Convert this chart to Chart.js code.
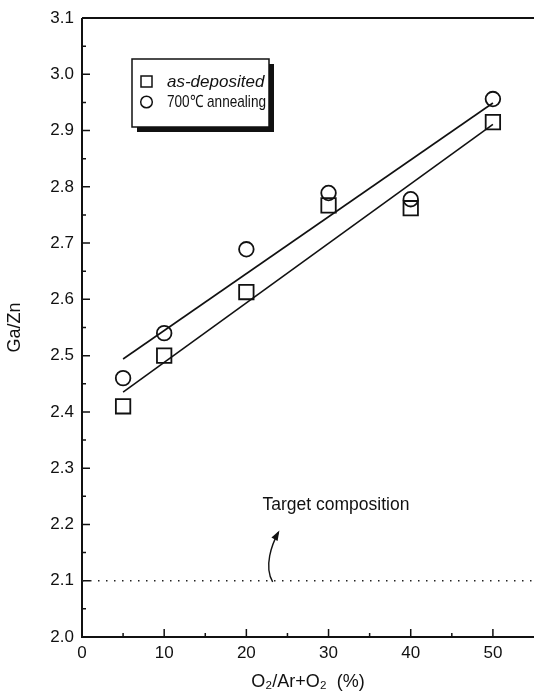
<!DOCTYPE html>
<html>
<head>
<meta charset="utf-8">
<script src="https://cdn.jsdelivr.net/npm/chart.js@4.4.0/dist/chart.umd.min.js"></script>
<style>
  html, body { margin: 0; padding: 0; background: #fff; overflow: hidden; }
  #wrap { width: 534px; height: 695px; }
</style>
</head>
<body>
<div id="wrap"><canvas id="chart"></canvas></div>
<script>
const FONT = '"Liberation Sans", Arial, Helvetica, sans-serif';

// datos
const X_VALORES = [5, 10, 20, 30, 40, 50];
const AS_DEPOSITED = [2.41, 2.50, 2.613, 2.767, 2.762, 2.915];
const ANNEALED = [2.46, 2.54, 2.689, 2.789, 2.778, 2.956];
const AJUSTE_X = [5, 50];
const AJUSTE_AS_DEPOSITED = [2.435, 2.911];
const AJUSTE_ANNEALED = [2.494, 2.949];
const OBJETIVO_X = [0, 55];
const OBJETIVO_Y = [2.1, 2.1];
const X_TICKS = [0, 10, 20, 30, 40, 50];
const Y_TICKS = [2.0, 2.1, 2.2, 2.3, 2.4, 2.5, 2.6, 2.7, 2.8, 2.9, 3.0, 3.1];
const LEYENDA = ["as-deposited", "700\u2103 annealing"];
const TEXTO_OBJETIVO = "Target composition";
// anotación (en unidades de datos): texto y flecha curva
const TEXTO_OBJETIVO_EN = [30.9, 2.234];
const FLECHA = [[23.2, 2.098], [22.1, 2.125], [23.1, 2.165], [23.9, 2.186]];

const puntos = (xs, ys) => xs.map((x, i) => ({ x: x, y: ys[i] }));

function ticksFijos(lista) {
  return (scale) => { scale.ticks = lista.map((v) => ({ value: v })); };
}

// marco y ticks hacia adentro
const marco = {
  id: "marco",
  beforeDatasetsDraw(chart) {
    const { ctx, chartArea: a, scales } = chart;
    const sx = scales.x, sy = scales.y;
    ctx.save();
    ctx.strokeStyle = "#111";
    ctx.lineWidth = 2;
    ctx.beginPath();
    ctx.moveTo(a.left, a.top);
    ctx.lineTo(a.right, a.top);
    ctx.moveTo(a.left, a.top);
    ctx.lineTo(a.left, a.bottom);
    ctx.lineTo(a.right, a.bottom);
    ctx.stroke();
    ctx.lineWidth = 1.5;
    ctx.beginPath();
    for (let i = 0; i < Y_TICKS.length; i++) {
      const y = sy.getPixelForValue(Y_TICKS[i]);
      ctx.moveTo(a.left, y);
      ctx.lineTo(a.left + 8, y);
      if (i < Y_TICKS.length - 1) {
        const ym = sy.getPixelForValue((Y_TICKS[i] + Y_TICKS[i + 1]) / 2);
        ctx.moveTo(a.left, ym);
        ctx.lineTo(a.left + 4, ym);
      }
    }
    for (let i = 0; i < X_TICKS.length; i++) {
      const x = sx.getPixelForValue(X_TICKS[i]);
      ctx.moveTo(x, a.bottom);
      ctx.lineTo(x, a.bottom - 8);
      const xm = sx.getPixelForValue(X_TICKS[i] + 5);
      if (xm < a.right - 2) {
        ctx.moveTo(xm, a.bottom);
        ctx.lineTo(xm, a.bottom - 4);
      }
    }
    ctx.stroke();
    ctx.restore();
  },
  afterDraw(chart) {
    const { ctx, chartArea: a, scales } = chart;
    const sx = scales.x, sy = scales.y;
    ctx.save();
    // leyenda con sombra
    const bx = a.left + 50, by = a.top + 41, bw = 137, bh = 68;
    ctx.fillStyle = "#111";
    ctx.fillRect(bx + 5, by + bh, bw, 5);
    ctx.fillRect(bx + bw, by + 5, 5, bh);
    ctx.fillStyle = "#fff";
    ctx.fillRect(bx, by, bw, bh);
    ctx.strokeStyle = "#111";
    ctx.lineWidth = 1.5;
    ctx.strokeRect(bx, by, bw, bh);
    ctx.strokeRect(bx + 9, by + 17, 11, 11);
    ctx.beginPath();
    ctx.arc(bx + 14.5, by + 43, 5.8, 0, Math.PI * 2);
    ctx.stroke();
    ctx.fillStyle = "#111";
    ctx.textBaseline = "middle";
    ctx.font = "italic 17px " + FONT;
    ctx.fillText(LEYENDA[0], bx + 35, by + 23, 98);
    ctx.font = "17px " + FONT;
    ctx.fillText(LEYENDA[1], bx + 35, by + 43, 99);

    // texto "Target composition"
    ctx.textAlign = "center";
    ctx.font = "17.5px " + FONT;
    ctx.fillText(TEXTO_OBJETIVO, sx.getPixelForValue(TEXTO_OBJETIVO_EN[0]), sy.getPixelForValue(TEXTO_OBJETIVO_EN[1]));

    // flecha curva
    const p = FLECHA.map(([x, y]) => [sx.getPixelForValue(x), sy.getPixelForValue(y)]);
    ctx.lineWidth = 1.4;
    ctx.beginPath();
    ctx.moveTo(p[0][0], p[0][1]);
    ctx.bezierCurveTo(p[1][0], p[1][1], p[2][0], p[2][1], p[3][0], p[3][1]);
    ctx.stroke();
    const ang = Math.atan2(p[3][1] - p[2][1], p[3][0] - p[2][0]);
    ctx.translate(p[3][0], p[3][1]);
    ctx.rotate(ang);
    ctx.beginPath();
    ctx.moveTo(2, 0);
    ctx.lineTo(-8, -3.5);
    ctx.lineTo(-8, 3.5);
    ctx.closePath();
    ctx.fill();
    ctx.restore();
  },
};

new Chart(document.getElementById("chart"), {
  type: "scatter",
  data: {
    datasets: [
      {
        label: "objetivo",
        data: puntos(OBJETIVO_X, OBJETIVO_Y),
        showLine: true,
        borderColor: "#222",
        borderWidth: 1.5,
        borderDash: [1.5, 6.5],
        pointRadius: 0,
      },
      {
        label: "ajuste as-deposited",
        data: puntos(AJUSTE_X, AJUSTE_AS_DEPOSITED),
        showLine: true,
        borderColor: "#111",
        borderWidth: 1.6,
        pointRadius: 0,
      },
      {
        label: "ajuste annealed",
        data: puntos(AJUSTE_X, AJUSTE_ANNEALED),
        showLine: true,
        borderColor: "#111",
        borderWidth: 1.6,
        pointRadius: 0,
      },
      {
        label: LEYENDA[0],
        data: puntos(X_VALORES, AS_DEPOSITED),
        pointStyle: "rect",
        pointRadius: 10.2,
        borderColor: "#111",
        borderWidth: 1.8,
        backgroundColor: "rgba(0,0,0,0)",
        clip: false,
      },
      {
        label: LEYENDA[1],
        data: puntos(X_VALORES, ANNEALED),
        pointStyle: "circle",
        pointRadius: 7.3,
        borderColor: "#111",
        borderWidth: 1.8,
        backgroundColor: "rgba(0,0,0,0)",
        clip: false,
      },
    ],
  },
  options: {
    responsive: true,
    maintainAspectRatio: false,
    animation: false,
    layout: { autoPadding: false, padding: { top: 18, right: 0, left: 0, bottom: 0 } },
    plugins: { legend: { display: false }, tooltip: { enabled: false } },
    scales: {
      x: {
        type: "linear",
        min: 0,
        max: 55,
        afterBuildTicks: ticksFijos(X_TICKS),
        afterFit: (s) => { s.height = 58; s.paddingRight = 0; s.paddingLeft = 0; },
        grid: { display: false, drawTicks: false },
        border: { display: false },
        ticks: { color: "#111", padding: 6, font: { family: FONT, size: 17 }, callback: (v) => v },
        title: { display: true, text: "O\u2082/Ar+O\u2082  (%)", color: "#111", font: { family: FONT, size: 18 }, padding: { top: 0, bottom: 2 } },
      },
      y: {
        type: "linear",
        min: 2.0,
        max: 3.1,
        afterBuildTicks: ticksFijos(Y_TICKS),
        afterFit: (s) => { s.width = 82; s.paddingTop = 0; s.paddingBottom = 0; },
        grid: { display: false, drawTicks: false },
        border: { display: false },
        ticks: { color: "#111", padding: 8, font: { family: FONT, size: 17 }, callback: (v) => v.toFixed(1) },
        title: { display: true, text: "Ga/Zn", color: "#111", font: { family: FONT, size: 18 }, padding: { top: 4, bottom: 4 } },
      },
    },
  },
  plugins: [marco],
});
</script>
</body>
</html>
